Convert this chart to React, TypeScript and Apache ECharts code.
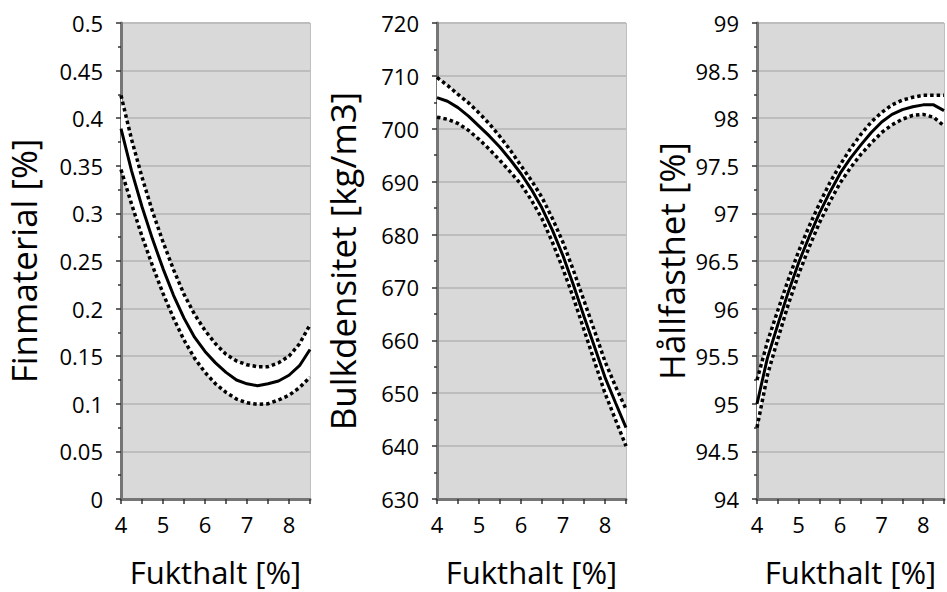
import React, { useEffect, useRef } from "react";
import * as echarts from "echarts";

// Moisture content (x) sample points
const xs = [4, 4.25, 4.5, 4.75, 5, 5.25, 5.5, 5.75, 6, 6.25, 6.5, 6.75, 7, 7.25, 7.5, 7.75, 8, 8.25, 8.5];

// Finmaterial [%]
const fineSolid = [0.389, 0.345, 0.307, 0.273, 0.242, 0.214, 0.19, 0.17, 0.155, 0.143, 0.133, 0.125, 0.121, 0.119, 0.121, 0.124, 0.13, 0.14, 0.157];
const fineUpper = [0.424, 0.378, 0.338, 0.302, 0.27, 0.241, 0.215, 0.194, 0.177, 0.163, 0.152, 0.145, 0.141, 0.139, 0.139, 0.143, 0.15, 0.163, 0.183];
const fineLower = [0.346, 0.31, 0.276, 0.245, 0.216, 0.19, 0.167, 0.148, 0.133, 0.121, 0.112, 0.105, 0.101, 0.0995, 0.1, 0.104, 0.109, 0.117, 0.128];

// Bulkdensitet [kg/m3]
const bulkSolid = [705.9, 705.2, 704.0, 702.4, 700.5, 698.6, 696.5, 694.1, 691.5, 688.5, 685.0, 680.8, 676.0, 670.4, 664.5, 658.8, 653.0, 648.2, 643.5];
const bulkUpper = [709.7, 708.2, 706.5, 704.9, 703.0, 700.9, 698.5, 695.9, 693.0, 690.2, 687.0, 683.0, 678.5, 673.2, 667.5, 661.8, 656.0, 651.3, 647.0];
const bulkLower = [702.2, 701.8, 701.0, 699.7, 698.0, 696.1, 694.0, 691.8, 689.5, 686.5, 683.0, 678.5, 673.5, 668.0, 662.0, 656.0, 650.0, 645.0, 640.0];

// Hållfasthet [%]
const hallSolid = [95.0, 95.48, 95.83, 96.17, 96.48, 96.75, 97.0, 97.22, 97.42, 97.58, 97.72, 97.85, 97.96, 98.04, 98.09, 98.12, 98.14, 98.14, 98.08];
const hallUpper = [95.25, 95.65, 95.98, 96.3, 96.6, 96.86, 97.1, 97.32, 97.51, 97.68, 97.83, 97.96, 98.06, 98.14, 98.19, 98.22, 98.24, 98.24, 98.24];
const hallLower = [94.75, 95.3, 95.68, 96.04, 96.36, 96.64, 96.9, 97.12, 97.32, 97.48, 97.62, 97.74, 97.85, 97.93, 97.99, 98.03, 98.04, 98.01, 97.92];

const xTitle = "Fukthalt [%]";
const yTitles = ["Finmaterial [%]", "Bulkdensitet [kg/m3]", "Hållfasthet [%]"];
const yMins = [0, 630, 94];
const yMaxs = [0.5, 720, 99];
const yIntervals = [0.05, 10, 0.5];
const xMin = 4;
const xMax = 8.5;

const FONT = "Open Sans";

export default function App() {
  const ref = useRef<HTMLDivElement>(null);
  useEffect(() => {
    document.body.style.margin = "0";
    const chart = echarts.init(ref.current!, null, { renderer: "svg" });
    const panels = [
      [fineSolid, fineUpper, fineLower],
      [bulkSolid, bulkUpper, bulkLower],
      [hallSolid, hallUpper, hallLower],
    ];
    const lefts = [121, 437, 757];
    const nameGaps = [80, 77, 68];
    const pairs = (ys: number[]) => xs.map((x, i) => [x, ys[i]]);

    const grid = lefts.map((l) => ({
      left: l,
      top: 23,
      width: 189,
      height: 476,
      show: true,
      backgroundColor: "transparent",
      borderColor: "#808080",
      borderWidth: 1,
    }));

    const xAxis = lefts.map((_, i) => ({
      type: "value",
      gridIndex: i,
      min: xMin,
      max: xMax,
      interval: 0.5,
      axisLine: { show: true, onZero: false, lineStyle: { color: "#767676", width: 3 } },
      axisTick: { show: true, length: 5, lineStyle: { color: "#333", width: 1.5 } },
      axisLabel: {
        formatter: (v: number) => (Number.isInteger(v) ? String(v) : ""),
        fontSize: 22,
        color: "#000",
        margin: 14,
        fontFamily: FONT,
      },
      splitLine: { show: false },
      name: xTitle,
      nameLocation: "middle",
      nameGap: 57,
      nameTextStyle: { fontSize: 31, color: "#000", fontFamily: FONT },
    }));

    const yAxis = lefts.map((_, i) => ({
      type: "value",
      gridIndex: i,
      min: yMins[i],
      max: yMaxs[i],
      interval: yIntervals[i],
      axisLine: { show: true, onZero: false, lineStyle: { color: "#767676", width: 3 } },
      axisTick: { show: true, length: 5, lineStyle: { color: "#333", width: 1.5 } },
      minorTick: { show: true, splitNumber: 2, length: 3, lineStyle: { color: "#333", width: 1.5 } },
      axisLabel: { fontSize: 22, color: "#000", margin: 18, fontFamily: FONT },
      splitArea: { show: true, areaStyle: { color: ["#d9d9d9"] } },
      splitLine: { show: true, lineStyle: { color: "#bdbdbd", width: 2 } },
      name: yTitles[i],
      nameLocation: "middle",
      nameGap: nameGaps[i],
      nameTextStyle: { fontSize: 35, lineHeight: 36, color: "#000", fontFamily: FONT },
    }));

    const series: any[] = [];
    panels.forEach(([solid, upper, lower], i) => {
      series.push({
        type: "custom",
        xAxisIndex: i,
        yAxisIndex: i,
        data: xs.map((x, k) => [x, upper[k], lower[k]]),
        silent: true,
        renderItem: (params: any, api: any) => {
          if (params.dataIndex !== 0) return null;
          const top = xs.map((x, k) => api.coord([x, upper[k]]));
          const bot = xs.map((x, k) => api.coord([x, lower[k]])).reverse();
          return {
            type: "polygon",
            shape: { points: top.concat(bot) },
            style: { fill: "#ffffff", stroke: null },
          };
        },
      });
      [upper, lower].forEach((d) => {
        series.push({
          type: "line",
          xAxisIndex: i,
          yAxisIndex: i,
          data: pairs(d),
          symbol: "none",
          lineStyle: { color: "#000", width: 3.5, type: [3.5, 3], cap: "butt" },
          silent: true,
        });
      });
      series.push({
        type: "line",
        xAxisIndex: i,
        yAxisIndex: i,
        data: pairs(solid),
        symbol: "none",
        lineStyle: { color: "#000", width: 3 },
        silent: true,
      });
    });

    chart.setOption({
      animation: false,
      backgroundColor: "#ffffff",
      grid,
      xAxis,
      yAxis,
      series,
    });
    return () => chart.dispose();
  }, []);
  return (
    <div
      ref={ref}
      style={{ position: "fixed", left: 0, top: 0, width: 947, height: 592 }}
    />
  );
}
